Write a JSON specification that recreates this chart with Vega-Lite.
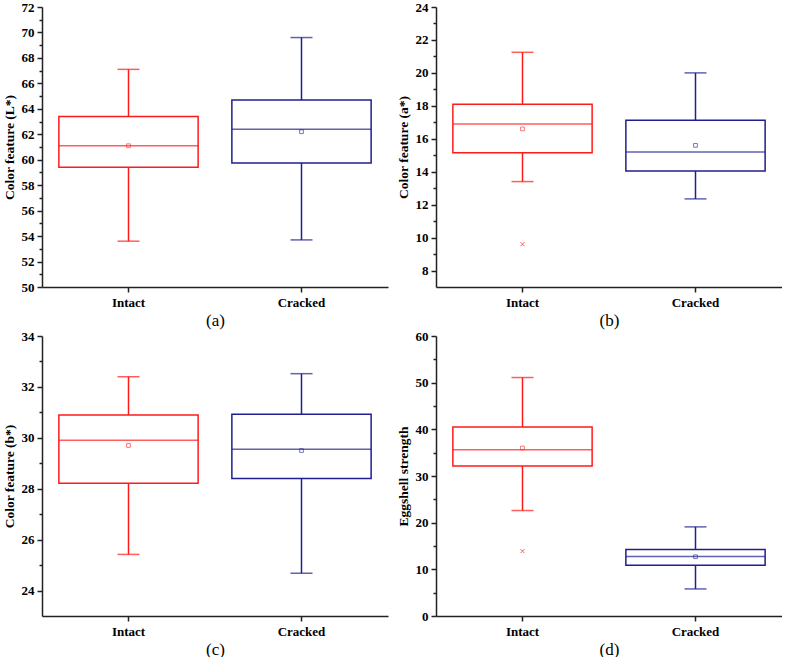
{
  "$schema": "https://vega.github.io/schema/vega-lite/v6.json",
  "background": "white",
  "padding": {"left": 2, "top": 1, "right": 0, "bottom": 0},
  "config": {
    "font": "Liberation Serif",
    "view": {"stroke": null},
    "axis": {"grid": false, "domainColor": "#222", "domainWidth": 1.5, "tickColor": "#222", "tickWidth": 1.5, "labelFont": "Liberation Serif", "labelFontWeight": "bold", "labelFontSize": 13, "labelColor": "#000", "titleFont": "Liberation Serif", "titleFontWeight": "bold", "titleFontSize": 13.5, "titleColor": "#000"},
    "axisX": {"labelAngle": 0, "tickSize": 5, "labelPadding": 4, "titleFontWeight": "normal", "titleFontSize": 17, "titlePadding": 3},
    "axisY": {"labelPadding": 3, "titlePadding": 5}
  },
  "datasets": {
    "stats": [
      {"panel": "a", "group": "Intact", "min": 53.6, "q1": 59.4, "median": 61.1, "q3": 63.4, "max": 67.1, "mean": 61.1},
      {"panel": "a", "group": "Cracked", "min": 53.7, "q1": 59.75, "median": 62.4, "q3": 64.7, "max": 69.6, "mean": 62.2},
      {"panel": "b", "group": "Intact", "min": 13.4, "q1": 15.15, "median": 16.9, "q3": 18.1, "max": 21.25, "mean": 16.6},
      {"panel": "b", "group": "Cracked", "min": 12.35, "q1": 14.05, "median": 15.2, "q3": 17.13, "max": 20.0, "mean": 15.6},
      {"panel": "c", "group": "Intact", "min": 25.42, "q1": 28.22, "median": 29.9, "q3": 30.9, "max": 32.4, "mean": 29.7},
      {"panel": "c", "group": "Cracked", "min": 24.68, "q1": 28.4, "median": 29.55, "q3": 30.93, "max": 32.52, "mean": 29.5},
      {"panel": "d", "group": "Intact", "min": 22.6, "q1": 32.15, "median": 35.6, "q3": 40.5, "max": 51.1, "mean": 36.0},
      {"panel": "d", "group": "Cracked", "min": 5.8, "q1": 10.9, "median": 12.75, "q3": 14.25, "max": 19.1, "mean": 12.7}
    ],
    "outliers": [
      {"panel": "b", "group": "Intact", "value": 9.6},
      {"panel": "d", "group": "Intact", "value": 13.9}
    ]
  },
  "spacing": 2,
  "vconcat": [
    {
      "spacing": 8,
      "hconcat": [
        {
          "width": 346, "height": 280,
          "data": {"name": "stats"},
          "transform": [{"filter": "datum.panel === 'a'"}],
          "encoding": {
            "x": {"field": "group", "type": "nominal", "sort": null, "scale": {"domain": ["Intact", "Cracked"], "paddingInner": 0, "paddingOuter": 0}, "axis": {"title": "(a)"}},
            "color": {"field": "group", "type": "nominal", "scale": {"domain": ["Intact", "Cracked"], "range": ["#ff1a1a", "#1f1f8f"]}, "legend": null}
          },
          "layer": [
            {"mark": {"type": "rule", "strokeWidth": 1.5}, "encoding": {"y": {"field": "min", "type": "quantitative", "scale": {"domain": [50, 72], "nice": false, "zero": false}, "axis": {"title": "Color feature (L*)", "format": "d", "tickCount": 100, "labelOverlap": false, "values": [50, 51, 52, 53, 54, 55, 56, 57, 58, 59, 60, 61, 62, 63, 64, 65, 66, 67, 68, 69, 70, 71, 72], "labelExpr": "datum.value % 2 === 0 ? datum.label : ''", "tickSize": {"condition": {"test": "datum.value % 2 !== 0", "value": 3}, "value": 5}}}, "y2": {"field": "max"}}},
            {"mark": {"type": "bar", "fill": "white", "strokeWidth": 1.5, "width": {"band": 0.805}}, "encoding": {"y": {"field": "q1", "type": "quantitative"}, "y2": {"field": "q3"}, "stroke": {"field": "group", "type": "nominal", "scale": {"domain": ["Intact", "Cracked"], "range": ["#ff1a1a", "#1f1f8f"]}, "legend": null}}},
            {"mark": {"type": "tick", "thickness": 1.5, "size": 139}, "encoding": {"y": {"field": "median", "type": "quantitative"}}},
            {"mark": {"type": "tick", "thickness": 1.5, "size": 22}, "encoding": {"y": {"field": "min", "type": "quantitative"}}},
            {"mark": {"type": "tick", "thickness": 1.5, "size": 22}, "encoding": {"y": {"field": "max", "type": "quantitative"}}},
            {"mark": {"type": "point", "shape": "square", "filled": false, "size": 14, "strokeWidth": 1, "opacity": 0.6}, "encoding": {"y": {"field": "mean", "type": "quantitative"}}}
          ]
        },
        {
          "width": 346, "height": 280,
          "encoding": {
            "x": {"field": "group", "type": "nominal", "sort": null, "scale": {"domain": ["Intact", "Cracked"], "paddingInner": 0, "paddingOuter": 0}, "axis": {"title": "(b)"}},
            "color": {"field": "group", "type": "nominal", "scale": {"domain": ["Intact", "Cracked"], "range": ["#ff1a1a", "#1f1f8f"]}, "legend": null}
          },
          "layer": [
            {"data": {"name": "stats"}, "transform": [{"filter": "datum.panel === 'b'"}], "mark": {"type": "rule", "strokeWidth": 1.5}, "encoding": {"y": {"field": "min", "type": "quantitative", "scale": {"domain": [7, 24], "nice": false, "zero": false}, "axis": {"title": "Color feature (a*)", "format": "d", "tickCount": 100, "labelOverlap": false, "values": [8, 9, 10, 11, 12, 13, 14, 15, 16, 17, 18, 19, 20, 21, 22, 23, 24], "labelExpr": "datum.value % 2 === 0 ? datum.label : ''", "tickSize": {"condition": {"test": "datum.value % 2 !== 0", "value": 3}, "value": 5}}}, "y2": {"field": "max"}}},
            {"data": {"name": "stats"}, "transform": [{"filter": "datum.panel === 'b'"}], "mark": {"type": "bar", "fill": "white", "strokeWidth": 1.5, "width": {"band": 0.805}}, "encoding": {"y": {"field": "q1", "type": "quantitative"}, "y2": {"field": "q3"}, "stroke": {"field": "group", "type": "nominal", "scale": {"domain": ["Intact", "Cracked"], "range": ["#ff1a1a", "#1f1f8f"]}, "legend": null}}},
            {"data": {"name": "stats"}, "transform": [{"filter": "datum.panel === 'b'"}], "mark": {"type": "tick", "thickness": 1.5, "size": 139}, "encoding": {"y": {"field": "median", "type": "quantitative"}}},
            {"data": {"name": "stats"}, "transform": [{"filter": "datum.panel === 'b'"}], "mark": {"type": "tick", "thickness": 1.5, "size": 22}, "encoding": {"y": {"field": "min", "type": "quantitative"}}},
            {"data": {"name": "stats"}, "transform": [{"filter": "datum.panel === 'b'"}], "mark": {"type": "tick", "thickness": 1.5, "size": 22}, "encoding": {"y": {"field": "max", "type": "quantitative"}}},
            {"data": {"name": "stats"}, "transform": [{"filter": "datum.panel === 'b'"}], "mark": {"type": "point", "shape": "square", "filled": false, "size": 14, "strokeWidth": 1, "opacity": 0.6}, "encoding": {"y": {"field": "mean", "type": "quantitative"}}},
            {"data": {"name": "outliers"}, "transform": [{"filter": "datum.panel === 'b'"}], "mark": {"type": "point", "shape": "M-1,-1L1,1M-1,1L1,-1", "filled": false, "size": 16, "strokeWidth": 1, "opacity": 0.7}, "encoding": {"y": {"field": "value", "type": "quantitative"}}}
          ]
        }
      ]
    },
    {
      "spacing": 8,
      "hconcat": [
        {
          "width": 346, "height": 280,
          "data": {"name": "stats"},
          "transform": [{"filter": "datum.panel === 'c'"}],
          "encoding": {
            "x": {"field": "group", "type": "nominal", "sort": null, "scale": {"domain": ["Intact", "Cracked"], "paddingInner": 0, "paddingOuter": 0}, "axis": {"title": "(c)"}},
            "color": {"field": "group", "type": "nominal", "scale": {"domain": ["Intact", "Cracked"], "range": ["#ff1a1a", "#1f1f8f"]}, "legend": null}
          },
          "layer": [
            {"mark": {"type": "rule", "strokeWidth": 1.5}, "encoding": {"y": {"field": "min", "type": "quantitative", "scale": {"domain": [23, 34], "nice": false, "zero": false}, "axis": {"title": "Color feature (b*)", "format": "d", "tickCount": 100, "labelOverlap": false, "values": [24, 25, 26, 27, 28, 29, 30, 31, 32, 33, 34], "labelExpr": "datum.value % 2 === 0 ? datum.label : ''", "tickSize": {"condition": {"test": "datum.value % 2 !== 0", "value": 3}, "value": 5}}}, "y2": {"field": "max"}}},
            {"mark": {"type": "bar", "fill": "white", "strokeWidth": 1.5, "width": {"band": 0.805}}, "encoding": {"y": {"field": "q1", "type": "quantitative"}, "y2": {"field": "q3"}, "stroke": {"field": "group", "type": "nominal", "scale": {"domain": ["Intact", "Cracked"], "range": ["#ff1a1a", "#1f1f8f"]}, "legend": null}}},
            {"mark": {"type": "tick", "thickness": 1.5, "size": 139}, "encoding": {"y": {"field": "median", "type": "quantitative"}}},
            {"mark": {"type": "tick", "thickness": 1.5, "size": 22}, "encoding": {"y": {"field": "min", "type": "quantitative"}}},
            {"mark": {"type": "tick", "thickness": 1.5, "size": 22}, "encoding": {"y": {"field": "max", "type": "quantitative"}}},
            {"mark": {"type": "point", "shape": "square", "filled": false, "size": 14, "strokeWidth": 1, "opacity": 0.6}, "encoding": {"y": {"field": "mean", "type": "quantitative"}}}
          ]
        },
        {
          "width": 346, "height": 280,
          "encoding": {
            "x": {"field": "group", "type": "nominal", "sort": null, "scale": {"domain": ["Intact", "Cracked"], "paddingInner": 0, "paddingOuter": 0}, "axis": {"title": "(d)"}},
            "color": {"field": "group", "type": "nominal", "scale": {"domain": ["Intact", "Cracked"], "range": ["#ff1a1a", "#1f1f8f"]}, "legend": null}
          },
          "layer": [
            {"data": {"name": "stats"}, "transform": [{"filter": "datum.panel === 'd'"}], "mark": {"type": "rule", "strokeWidth": 1.5}, "encoding": {"y": {"field": "min", "type": "quantitative", "scale": {"domain": [0, 60], "nice": false, "zero": false}, "axis": {"title": "Eggshell strength", "format": "d", "tickCount": 100, "labelOverlap": false, "values": [0, 5, 10, 15, 20, 25, 30, 35, 40, 45, 50, 55, 60], "labelExpr": "datum.value % 10 === 0 ? datum.label : ''", "tickSize": {"condition": {"test": "datum.value % 10 !== 0", "value": 3}, "value": 5}}}, "y2": {"field": "max"}}},
            {"data": {"name": "stats"}, "transform": [{"filter": "datum.panel === 'd'"}], "mark": {"type": "bar", "fill": "white", "strokeWidth": 1.5, "width": {"band": 0.805}}, "encoding": {"y": {"field": "q1", "type": "quantitative"}, "y2": {"field": "q3"}, "stroke": {"field": "group", "type": "nominal", "scale": {"domain": ["Intact", "Cracked"], "range": ["#ff1a1a", "#1f1f8f"]}, "legend": null}}},
            {"data": {"name": "stats"}, "transform": [{"filter": "datum.panel === 'd'"}], "mark": {"type": "tick", "thickness": 1.5, "size": 139}, "encoding": {"y": {"field": "median", "type": "quantitative"}}},
            {"data": {"name": "stats"}, "transform": [{"filter": "datum.panel === 'd'"}], "mark": {"type": "tick", "thickness": 1.5, "size": 22}, "encoding": {"y": {"field": "min", "type": "quantitative"}}},
            {"data": {"name": "stats"}, "transform": [{"filter": "datum.panel === 'd'"}], "mark": {"type": "tick", "thickness": 1.5, "size": 22}, "encoding": {"y": {"field": "max", "type": "quantitative"}}},
            {"data": {"name": "stats"}, "transform": [{"filter": "datum.panel === 'd'"}], "mark": {"type": "point", "shape": "square", "filled": false, "size": 14, "strokeWidth": 1, "opacity": 0.6}, "encoding": {"y": {"field": "mean", "type": "quantitative"}}},
            {"data": {"name": "outliers"}, "transform": [{"filter": "datum.panel === 'd'"}], "mark": {"type": "point", "shape": "M-1,-1L1,1M-1,1L1,-1", "filled": false, "size": 16, "strokeWidth": 1, "opacity": 0.7}, "encoding": {"y": {"field": "value", "type": "quantitative"}}}
          ]
        }
      ]
    }
  ]
}
